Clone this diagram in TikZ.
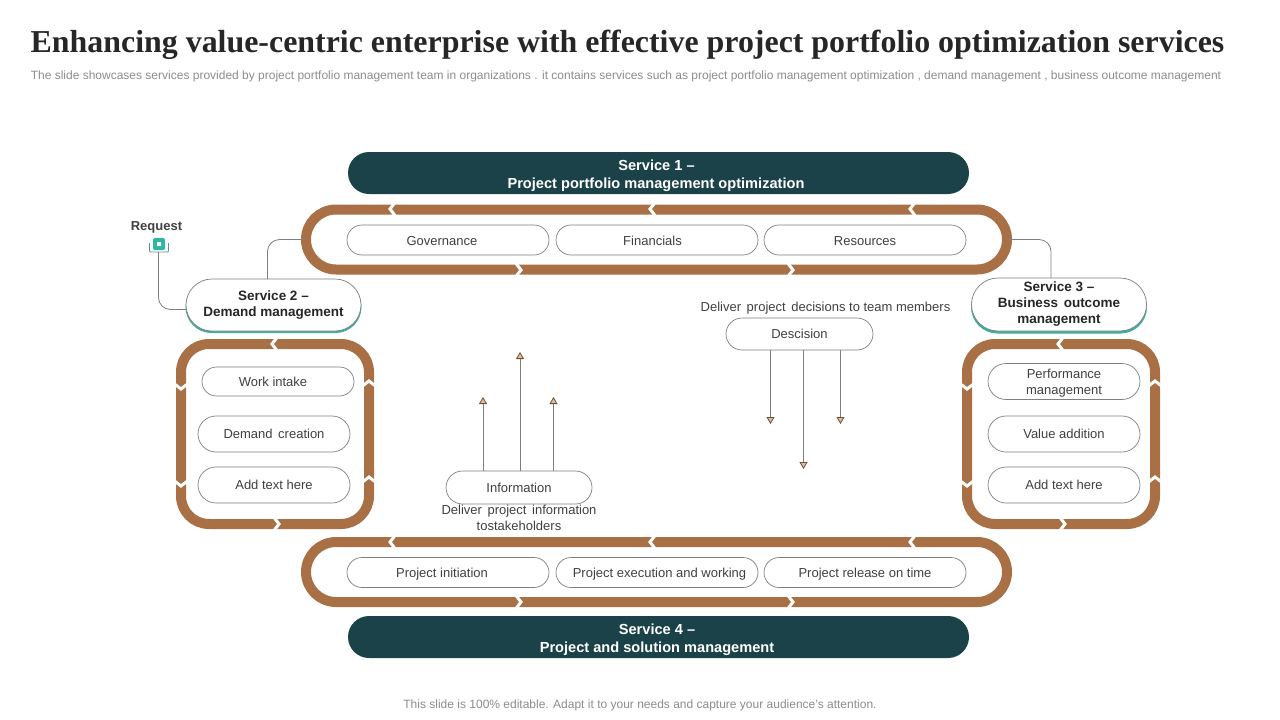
\documentclass[tikz,border=0pt]{standalone}
\usepackage{fontspec}
\setmainfont{Liberation Sans}
\newfontfamily\titlefont{Liberation Serif}
\usetikzlibrary{arrows.meta,shapes.misc}
\definecolor{ringbrown}{HTML}{A96F45}
\definecolor{darkteal}{HTML}{1B4249}
\definecolor{lightteal}{HTML}{3CAE9F}
\definecolor{iconteal}{HTML}{2DB5A6}
\definecolor{linegray}{HTML}{7F7F7F}
\definecolor{textgray}{HTML}{404040}
\definecolor{subgray}{HTML}{8C8C8C}
\newcommand\lowerby[1]{\rule{0pt}{#1}}
\tikzset{
  x=1pt,y=-1pt,
  every node/.style={inner sep=0pt,outer sep=0pt,align=center,text=textgray,font=\fontsize{13}{16}\selectfont},
  banner/.style={rounded rectangle,fill=darkteal,minimum width=621pt,minimum height=42pt,text=white,font=\fontsize{14.6}{18}\selectfont\bfseries},
  hring/.style={rounded rectangle,draw=ringbrown,line width=10pt,fill=white,minimum width=701pt,minimum height=60pt},
  vring/.style={draw=ringbrown,line width=10pt,fill=white,rounded corners=28pt,minimum width=188pt,minimum height=180pt},
  pill/.style={rounded rectangle,draw=linegray,line width=0.7pt,fill=white},
  widepill/.style={pill,minimum width=202pt,minimum height=30pt},
  sidepill/.style={pill,minimum width=152pt,minimum height=36pt},
  service/.style={pill,minimum width=175pt,minimum height=52pt,font=\fontsize{13.5}{16}\selectfont\bfseries,text=black!85},
  serviceback/.style={rounded rectangle,fill=lightteal,minimum width=176pt,minimum height=52pt},
  link/.style={draw=linegray,line width=0.8pt,rounded corners=12pt},
  flow/.style={draw=linegray,line width=0.8pt,-{Triangle[fill=ringbrown!45,length=7pt,width=8pt,color=ringbrown!70!black,line width=0.8pt]}},
  chev/.pic={\draw[white,line width=3pt] (5,-6.5) -- (0,0) -- (5,6.5);},
}
\begin{document}
\begin{tikzpicture}
\useasboundingbox (0,0) rectangle (1280,720);
% header and footer
\node[text=black!85,font=\titlefont\fontsize{31.9}{36}\selectfont\bfseries] (title) at (627.5,45) {Enhancing value-centric enterprise with effective project portfolio optimization services};
\node[text=subgray,font=\fontsize{12}{14}\selectfont] (subtitle) at (626,76) {The slide showcases services provided by project portfolio management team in organizations . it contains services such as project portfolio management optimization , demand management , business outcome management};
\node[text=subgray,font=\fontsize{12}{14}\selectfont] (footer) at (640,705) {This slide is 100\% editable. Adapt it to your needs and capture your audience’s attention.};
% rings
\node[hring] (topring) at (656.5,239.5) {};
\node[hring] (bottomring) at (656.5,572) {};
\node[vring] (leftring) at (275,434) {};
\node[vring] (rightring) at (1061,434) {};
% ring chevrons
\pic at (390,209) {chev}; \pic at (650,209) {chev}; \pic at (910,209) {chev};
\pic[rotate=180] at (521,270) {chev}; \pic[rotate=180] at (793,270) {chev};
\pic at (390,542) {chev}; \pic at (650,542) {chev}; \pic at (910,542) {chev};
\pic[rotate=180] at (521,602) {chev}; \pic[rotate=180] at (793,602) {chev};
\foreach \cx in {275,1061}{
  \pic at (\cx-3,344) {chev};
  \pic[rotate=180] at (\cx+4,524) {chev};
  \pic[rotate=90] at (\cx-94,389) {chev};
  \pic[rotate=90] at (\cx-94,486) {chev};
  \pic[rotate=-90] at (\cx+94,381) {chev};
  \pic[rotate=-90] at (\cx+94,477) {chev};
}
% banners
\node[banner] (s1) at (658.5,173) {\lowerby{17pt}Service 1 –\hspace*{4pt}\\Project portfolio management optimization\hspace*{5pt}};
\node[banner] (s4) at (658.5,637) {\lowerby{17pt}Service 4 –\hspace*{3pt}\\Project and solution management\hspace*{3pt}};
% ring items
\node[widepill] (gov) at (448,240) {\lowerby{12pt}Governance\hspace*{12pt}};
\node[widepill] (fin) at (657,240) {\lowerby{12pt}Financials\hspace*{9pt}};
\node[widepill] (res) at (865,240) {\lowerby{12pt}Resources};
\node[widepill] (init) at (448,572.5) {\lowerby{13pt}Project initiation\hspace*{12pt}};
\node[widepill] (exec) at (657,572.5) {\lowerby{13pt}\hspace*{5pt}Project execution and working};
\node[widepill] (rel) at (865,572.5) {\lowerby{13pt}Project release on time};
\node[sidepill,minimum height=29pt] (work) at (278,381.5) {Work intake\hspace*{10pt}};
\node[sidepill] (dem) at (274,434) {Demand\hspace{2pt} creation};
\node[sidepill] (addl) at (274,485) {Add text here};
\node[sidepill] (perf) at (1064,381.5) {\lowerby{13pt}Performance\\management};
\node[sidepill] (val) at (1064,434) {Value addition};
\node[sidepill] (addr) at (1064,485) {Add text here};
% service nodes
\node[serviceback] (s2back) at (273.5,307) {};
\node[service] (s2) at (273.5,305) {Service 2 –\\Demand management};
\node[serviceback,minimum height=53pt] (s3back) at (1059,307) {};
\node[service,minimum height=53pt] (s3) at (1059,304.5) {Service 3 –\\Business\hspace{2pt} outcome\\management};
% request icon
\node[font=\fontsize{13}{16}\selectfont\bfseries] (reqlabel) at (156.5,227) {Request};
\draw[linegray!60!iconteal,line width=0.8pt,rounded corners=1pt] (149.5,243) -- (149.5,252) -- (168.5,252) -- (168.5,243);
\node[fill=iconteal,rounded corners=2pt,minimum size=12pt] (req) at (159,244) {};
\node[fill=white,rounded corners=0.5pt,minimum size=4pt] (reqdot) at (159,244) {};
\coordinate (reqout) at (158.5,252);
\coordinate (s2in) at (186.5,309.5);
% links
\draw[link] (reqout) |- (s2in);
\coordinate (s2tap) at (267.5,279);
\coordinate (s3tap) at (1051,278);
\draw[link] (topring.west) -| (s2tap);
\draw[link] (topring.east) -| (s3tap);
% information
\node[pill,minimum width=146pt,minimum height=33pt] (info) at (519,487.5) {Information};
\node (infotext) at (519,517.5) {Deliver\hspace{2pt} project\hspace{2pt} information\\tostakeholders};
\coordinate (ia) at (483,397); \coordinate (ib) at (520,352); \coordinate (ic) at (553.5,397);
\draw[flow] (info.north -| ia) -- (ia);
\draw[flow] (info.north -| ib) -- (ib);
\draw[flow] (info.north -| ic) -- (ic);
% decision
\node[pill,minimum width=147pt,minimum height=32pt] (dec) at (799.5,334) {Descision};
\node (dectext) at (825.5,308.5) {Deliver\hspace{2pt} project\hspace{2pt} decisions to team members};
\coordinate (da) at (770.5,424); \coordinate (db) at (803.5,469); \coordinate (dc) at (840.5,424);
\draw[flow] (dec.south -| da) -- (da);
\draw[flow] (dec.south -| db) -- (db);
\draw[flow] (dec.south -| dc) -- (dc);
\end{tikzpicture}
\end{document}
